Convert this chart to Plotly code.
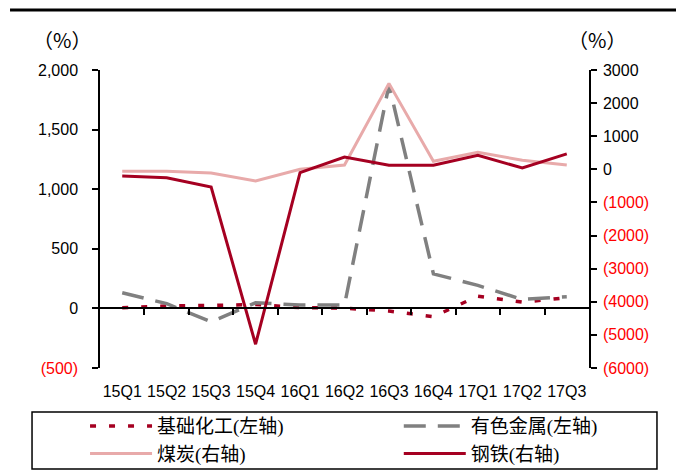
import plotly.graph_objects as go

quarters = ["15Q1", "15Q2", "15Q3", "15Q4", "16Q1", "16Q2", "16Q3", "16Q4", "17Q1", "17Q2", "17Q3"]

# left axis (%)
chem = [6, 20, 25, 33, 6, 2, -22, -70, 103, 53, 89]          # 基础化工
metals = [131, 40, -112, 47, 28, 28, 1875, 290, 193, 75, 98]  # 有色金属
# right axis (%)
coal = [-61, -61, -111, -354, 0, 131, 2596, 242, 515, 273, 131]      # 煤炭
steel = [-203, -252, -536, -5282, -100, 373, 121, 121, 424, 40, 465]  # 钢铁

left_ticks = [-500, 0, 500, 1000, 1500, 2000]
left_labels = ['<span style="color:#FF0000">(500)</span>', "0", "500", "1,000", "1,500", "2,000"]
right_ticks = [-6000, -5000, -4000, -3000, -2000, -1000, 0, 1000, 2000, 3000]
right_labels = ['<span style="color:#FF0000">(6000)</span>', '<span style="color:#FF0000">(5000)</span>',
                '<span style="color:#FF0000">(4000)</span>', '<span style="color:#FF0000">(3000)</span>',
                '<span style="color:#FF0000">(2000)</span>', '<span style="color:#FF0000">(1000)</span>',
                "0", "1000", "2000", "3000"]
boundaries = [0.5, 1.5, 2.5, 3.5, 4.5, 5.5, 6.5, 7.5, 8.5, 9.5]

DARK_RED = "#A50021"
PINK = "#E8AAAA"
GRAY = "#808080"

fig = go.Figure()
fig.add_trace(go.Scatter(x=quarters, y=chem, name="基础化工(左轴)", mode="lines", legend="legend",
                         line=dict(color=DARK_RED, width=3.5, dash="6px,13px"), legendrank=1))
fig.add_trace(go.Scatter(x=quarters, y=metals, name="有色金属(左轴)", mode="lines", legend="legend2",
                         line=dict(color=GRAY, width=3.5, dash="22px,12px"), legendrank=1))
fig.add_trace(go.Scatter(x=quarters, y=coal, name="煤炭(右轴)", mode="lines", yaxis="y2", legend="legend",
                         line=dict(color=PINK, width=3), legendrank=2))
fig.add_trace(go.Scatter(x=quarters, y=steel, name="钢铁(右轴)", mode="lines", yaxis="y2", legend="legend2",
                         line=dict(color=DARK_RED, width=3), legendrank=2))
# helper trace to register the baseline axis
fig.add_trace(go.Scatter(x=[0, 10], y=[0, 0], xaxis="x2", yaxis="y", mode="lines",
                         line=dict(width=0), opacity=0, showlegend=False, hoverinfo="skip"))

tickfont = dict(family="Liberation Sans, Arial", size=16, color="#000000")
legend_common = dict(orientation="v", xanchor="left", y=-0.131, yanchor="top",
                     borderwidth=0, bgcolor="rgba(0,0,0,0)", tracegroupgap=0,
                     font=dict(family="Liberation Serif, Noto Sans CJK SC", size=19, color="black"),
                     itemwidth=62)
fig.update_layout(
    template="none",
    width=684, height=472,
    margin=dict(l=92, r=103, t=62, b=112, autoexpand=False),
    paper_bgcolor="white", plot_bgcolor="white",
    showlegend=True,
    xaxis=dict(type="category", range=[-0.5, 10.5], showline=False, showgrid=False, zeroline=False,
               ticks="outside", ticklen=9, tickcolor="rgba(0,0,0,0)", tickfont=tickfont,
               automargin=False),
    xaxis2=dict(overlaying="x", anchor="free", position=0.2, range=[-0.5, 10.5],
                showline=True, linecolor="black", linewidth=1.5, ticks="outside", ticklen=6,
                tickwidth=1.5, tickcolor="black", tickvals=boundaries, showticklabels=False,
                showgrid=False, zeroline=False, automargin=False),
    yaxis=dict(range=[-500, 2000], tickvals=left_ticks, ticktext=left_labels, showline=True,
               linecolor="black", linewidth=1.5, ticks="outside", ticklen=6, tickwidth=1.5,
               tickcolor="black", showgrid=False, zeroline=False, tickfont=tickfont,
               ticklabelstandoff=11, automargin=False),
    yaxis2=dict(overlaying="y", side="right", range=[-6000, 3000], tickvals=right_ticks,
                ticktext=right_labels, showline=True, linecolor="black", linewidth=1.5,
                ticks="outside", ticklen=6, tickwidth=1.5, tickcolor="black", showgrid=False,
                zeroline=False, tickfont=tickfont, ticklabelstandoff=3, automargin=False),
    legend=dict(x=-0.0306, **legend_common),
    legend2=dict(x=0.611, **legend_common),
    annotations=[
        dict(text="（%）", xref="paper", yref="paper", x=-0.0777, y=1.1007, showarrow=False,
             xanchor="center", yanchor="middle",
             font=dict(family="Noto Sans CJK SC", size=20, color="black")),
        dict(text="（%）", xref="paper", yref="paper", x=1.0165, y=1.1007, showarrow=False,
             xanchor="center", yanchor="middle",
             font=dict(family="Noto Sans CJK SC", size=20, color="black")),
    ],
    shapes=[
        dict(type="line", xref="paper", yref="paper", x0=-0.184, x1=1.182, y0=1.201, y1=1.201,
             line=dict(color="black", width=3)),
        dict(type="rect", xref="paper", yref="paper", x0=-0.139, x1=1.139, y0=-0.339, y1=-0.1477,
             line=dict(color="black", width=1.5), fillcolor="rgba(0,0,0,0)", layer="below"),
    ],
)

fig.write_html("out.html")
